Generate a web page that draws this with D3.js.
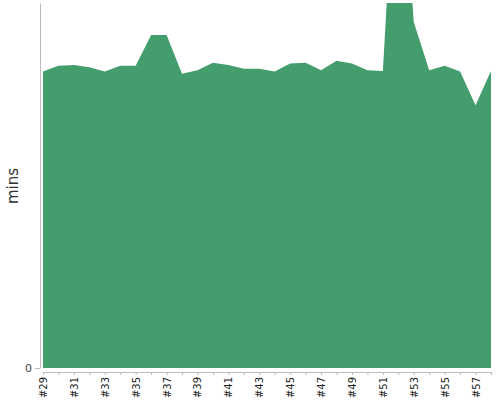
<!DOCTYPE html>
<html>
<head>
<meta charset="utf-8">
<script src="https://cdn.jsdelivr.net/npm/d3@7"></script>
<style>
  body { margin: 0; background: #fff; }
  svg { display: block; font-family: "DejaVu Sans", sans-serif; }
</style>
</head>
<body>
<svg id="chart" width="500" height="400"></svg>
<script>
// build numbers, #29 .. #58
const builds = ['#29', '#30', '#31', '#32', '#33', '#34', '#35', '#36', '#37', '#38',
                '#39', '#40', '#41', '#42', '#43', '#44', '#45', '#46', '#47', '#48',
                '#49', '#50', '#51', '#52', '#53', '#54', '#55', '#56', '#57', '#58'];

// duration in minutes for each build
const durations = [40.6, 41.4, 41.5, 41.2, 40.6, 41.4, 41.4, 45.6, 45.6, 40.3,
                   40.8, 41.8, 41.5, 41.0, 41.0, 40.6, 41.7, 41.8, 40.8, 42.1,
                   41.7, 40.8, 40.7, 77.8, 47.4, 40.8, 41.4, 40.6, 36.0, 40.7];

const yTicks = [0];

const svg = d3.select('#chart');

const plotLeft = 43, plotRight = 491, plotTop = 3, plotBottom = 368;

//x is one point per build
const xScale = d3.scalePoint()
    .domain(builds)
    .range([plotLeft, plotRight]);

const yScale = d3.scaleLinear()
    .domain([0, 50])
    .range([plotBottom, plotTop]);

//clip so the spike stops at the top of the plot
svg.append('clipPath')
    .attr('id', 'plotClip')
    .append('rect')
    .attr('x', 40)
    .attr('y', plotTop)
    .attr('width', plotRight - 40 + 2)
    .attr('height', plotBottom - plotTop);

const area = d3.area()
    .x((d, i) => xScale(builds[i]))
    .y0(yScale(0))
    .y1(d => yScale(d));

svg.append('path')
    .datum(durations)
    .attr('clip-path', 'url(#plotClip)')
    .attr('fill', '#449d6c')
    .attr('d', area);

//y axis, only the zero tick
const yAxis = svg.append('g')
    .attr('transform', 'translate(40, 0)')
    .call(d3.axisLeft(yScale).tickValues(yTicks).tickSize(5).tickPadding(3).tickSizeOuter(0));

yAxis.select('.domain').attr('stroke', '#bbb');
yAxis.selectAll('.tick line').attr('stroke', '#bbb');
yAxis.selectAll('.tick text')
    .attr('fill', '#444')
    .attr('font-size', '11px')
    .attr('font-family', 'DejaVu Sans, sans-serif');

//x axis sits a bit below the area
const xAxis = svg.append('g')
    .attr('transform', 'translate(0, 372)')
    .call(d3.axisBottom(xScale).tickSize(3).tickSizeOuter(0));

xAxis.select('.domain').attr('stroke', '#bbb');
xAxis.selectAll('.tick line').attr('stroke', '#bbb');
xAxis.selectAll('.tick text')
    .text((d, i) => i % 2 === 0 ? d : '')
    .attr('fill', '#222')
    .attr('font-size', '10px')
    .attr('font-family', 'DejaVu Sans, sans-serif')
    .attr('text-anchor', 'end')
    .attr('transform', 'rotate(-90)')
    .attr('x', -5)
    .attr('y', 0)
    .attr('dy', '0.35em');

//y axis title
svg.append('text')
    .attr('transform', 'translate(18, 186) rotate(-90)')
    .attr('text-anchor', 'middle')
    .attr('font-size', '15px')
    .attr('fill', '#333')
    .text('mins');
</script>
</body>
</html>
